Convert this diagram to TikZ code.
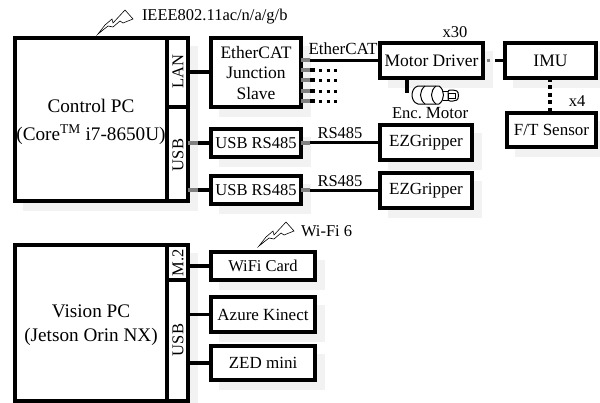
\documentclass[tikz,border=0pt]{standalone}
\usepackage{fontspec}
\setmainfont{Liberation Serif}
\definecolor{shade}{HTML}{F2F2F2}
\definecolor{stub}{HTML}{808080}
\newcommand{\fa}{\fontsize{16.5}{19}\selectfont}
\newcommand{\fb}{\fontsize{17.5}{20}\selectfont}
\newcommand{\fc}{\fontsize{19.2}{22}\selectfont}
\newcommand{\fd}{\fontsize{17}{20}\selectfont}
\tikzset{
  x=1pt,y=-1pt,
  base/.style={inner sep=0pt,outer sep=0pt,font=\fb,align=center},
  box/.style={base,draw=black,line width=3.2pt,fill=white,anchor=north west},
  cell/.style={base,draw=black,line width=3.2pt,fill=white,anchor=north west},
  lbl/.style={base,font=\fa},
  pclbl/.style={base,font=\fc},
  side/.style={lbl,rotate=90},
  wire/.style={line width=3.2pt},
  dotwire/.style={line width=3pt,dash pattern=on 3pt off 4.6pt},
  vdotwire/.style={line width=3.2pt,dash pattern=on 4pt off 3.4pt},
  stubwire/.style={line width=3.2pt,draw=stub},
  spark/.style={line width=.6pt,line join=miter},
  motorline/.style={line width=1pt},
  shadowrect/.style={fill=shade,draw=none}
}
\newcommand{\sparkshape}{(98,34) -- (105,25) -- (112,19) -- (113,23) -- (125,10) -- (133,19) -- (123,23) -- (120,21) -- (113,27) -- (108,26) -- cycle}
\newcommand{\shadowat}[4]{\fill[shadowrect] (#1+8,#2+8) rectangle (#3+10,#4+10);}
\begin{document}
\begin{tikzpicture}
\useasboundingbox (0,0) rectangle (600,402);
% offset shadows, under everything
\shadowat{15}{38}{188}{201}
\shadowat{211}{38}{301}{107}
\shadowat{211}{129}{301}{157}
\shadowat{211}{176}{301}{204}
\shadowat{380}{43}{483}{78}
\shadowat{505}{43}{596}{78}
\shadowat{507}{113}{596}{147}
\shadowat{380}{125}{472}{160}
\shadowat{380}{173}{472}{208}
\shadowat{15}{245}{188}{401}
\shadowat{211}{252}{315}{280}
\shadowat{211}{297}{315}{332}
\shadowat{211}{346}{315}{380}
% boxes
\node[box,minimum width=173pt,minimum height=163pt] (cpc) at (15,38) {};
\node[cell,minimum width=21pt,minimum height=69pt] (lan) at (167,38) {};
\node[cell,minimum width=21pt,minimum height=94pt] (cusb) at (167,107) {};
\node[box,minimum width=90pt,minimum height=69pt,text width=88pt] (ecat) at (211,38) {\vphantom{X}\\[-19pt]EtherCAT\\[.5pt]Junction\\[.5pt]Slave};
\node[box,font=\fa,minimum width=90pt,minimum height=28pt] (rs1) at (211,129) {USB RS485};
\node[box,font=\fa,minimum width=90pt,minimum height=28pt] (rs2) at (211,176) {USB RS485};
\node[box,minimum width=103pt,minimum height=35pt] (md) at (380,43) {Motor Driver};
\node[box,minimum width=91pt,minimum height=35pt] (imu) at (505,43) {IMU};
\node[box,font=\fd,minimum width=89pt,minimum height=34pt] (ft) at (507,113) {F/T Sensor};
\node[box,font=\fd,minimum width=92pt,minimum height=35pt] (ez1) at (380,125) {EZGripper};
\node[box,font=\fd,minimum width=92pt,minimum height=35pt] (ez2) at (380,173) {EZGripper};
\node[box,minimum width=173pt,minimum height=156pt] (vpc) at (15,245) {};
\node[cell,minimum width=21pt,minimum height=35pt] (m2) at (167,245) {};
\node[cell,minimum width=21pt,minimum height=121pt] (vusb) at (167,280) {};
\node[box,font=\fa,minimum width=104pt,minimum height=28pt] (wifi) at (211,252) {WiFi Card};
\node[box,font=\fd,minimum width=104pt,minimum height=35pt] (az) at (211,297) {Azure Kinect};
\node[box,font=\fd,minimum width=104pt,minimum height=34pt] (zed) at (211,346) {ZED mini};
% labels in the PCs
\node[pclbl] (cpct) at (91,122) {Control PC\\[6pt](Core\textsuperscript{TM} i7-8650U)};
\node[pclbl] (vpct) at (91,325) {Vision PC\\[2pt](Jetson Orin NX)};
\node[side] (lant) at (178,72) {LAN};
\node[side] (cusbt) at (178,155) {USB};
\node[side] (m2t) at (178,263) {M.2};
\node[side] (vusbt) at (178,340) {USB};
% free ends
\coordinate (e1) at (341,70);
\coordinate (e2) at (341,80);
\coordinate (e3) at (341,91);
\coordinate (e4) at (341,101);
\coordinate (s1) at (301,70);
\coordinate (s2) at (301,80);
\coordinate (s3) at (301,91);
\coordinate (s4) at (301,101);
\coordinate (motend) at (407,93);
% connectors
\draw[wire] (lan.east |- 0,72) -- (ecat.west |- 0,72);
\draw[wire] (cusb.east |- rs1.west) -- (rs1.west);
\draw[wire] (cusb.east |- rs2.west) -- (rs2.west);
\draw[wire] (ecat.east |- md.west) -- (md.west);
\draw[wire] (rs1.east |- ez1.west) -- (ez1.west);
\draw[wire] (rs2.east |- ez2.west) -- (ez2.west);
\draw[wire] (m2.east |- wifi.west) -- (wifi.west);
\draw[wire] (vusb.east |- az.west) -- (az.west);
\draw[wire] (vusb.east |- zed.west) -- (zed.west);
\draw[wire] (md.south -| motend) -- (motend);
\foreach \n in {1,2,3,4}{
  \draw[wire] (s\n) -- ++(14,0);
  \draw[dotwire] (s\n) ++(18,0) -- (e\n);
  \draw[stubwire] (s\n) -- ++(9,0);
}
\draw[wire] (imu.west) -- ++(-10,0);
\draw[line width=3pt,draw=stub] (487,60) -- (490,60);
\draw[vdotwire] (imu.south -| 550,0) -- (ft.north -| 550,0);
% grey stubs inside the shadows
\draw[stubwire] (188,143) -- (198,143);
\draw[stubwire] (188,190) -- (198,190);
\draw[stubwire] (301,60) -- (310,60);
\draw[stubwire] (301,143) -- (310,143);
\draw[stubwire] (301,190) -- (310,190);
% motor icon
\draw[motorline,fill=white] (439,86) -- (418,86) .. controls (410,88) and (410,102) .. (418,104) -- (439,104) .. controls (445,100) and (445,90) .. (439,86) -- cycle;
\draw[motorline] (425,86) .. controls (419,91) and (419,99) .. (425,104);
\draw[motorline] (436,86) .. controls (430,91) and (430,99) .. (436,104);
\draw[motorline] (443,91) -- (448,91);
\draw[motorline] (443,100) -- (448,100);
\draw[motorline,fill=white,rounded corners=2pt] (448,90) -- (455,90) .. controls (459,92) and (459,99) .. (455,101) -- (448,101) -- cycle;
\draw[motorline,fill=white] (448,93) rectangle (455,98);
% other labels
\node[lbl] (x30) at (455,32) {x30};
\node[lbl] (x4) at (577,101) {x4};
\node[lbl] (enc) at (407,113) {Enc.};
\node[lbl,font=\fd] (mot) at (447,113) {Motor};
\node[lbl,font=\fd] (ect) at (343,49) {EtherCAT};
\node[lbl] (r1) at (340,133) {RS485};
\node[lbl] (r2) at (340,181) {RS485};
\node[lbl,anchor=west] (ieee) at (142,17) {IEEE802.11ac/n/a/g/b};
\node[lbl,anchor=west] (wf6) at (301,231) {Wi-Fi 6};
% radio symbols
\draw[spark] \sparkshape;
\begin{scope}[shift={(161,212)}]
\draw[spark] \sparkshape;
\end{scope}
\end{tikzpicture}
\end{document}
